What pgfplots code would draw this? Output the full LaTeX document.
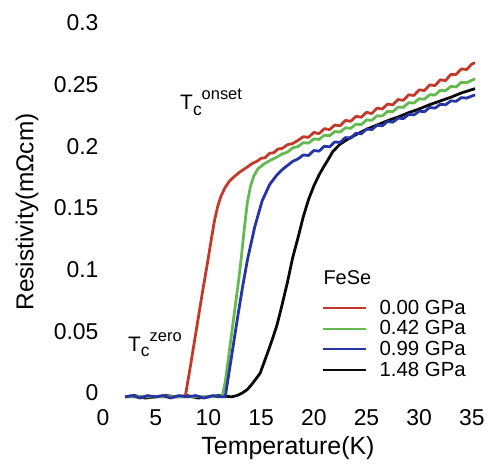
\documentclass[border=0pt]{standalone}
\usepackage{pgfplots}
\pgfplotsset{compat=1.18}
\usepackage{fontspec}
\setmainfont{Liberation Sans}
\definecolor{cRed}{RGB}{195,58,42}
\definecolor{cGreen}{RGB}{100,185,80}
\definecolor{cBlue}{RGB}{38,52,165}
\definecolor{cBlack}{RGB}{10,10,10}
\begin{document}
\begin{tikzpicture}
\useasboundingbox (0,0) rectangle (489bp,468bp);
\begin{axis}[
  at={(103bp,65bp)}, anchor=south west,
  scale only axis, width=379.44bp, height=376bp,
  xmin=0, xmax=36, ymin=-0.005, ymax=0.3,
  axis line style={draw=none}, tick style={draw=none},
  xtick={0,5,10,15,20,25,30,35},
  ytick={0,0.05,0.1,0.15,0.2,0.25,0.3},
  scaled y ticks=false,
  yticklabel style={/pgf/number format/fixed, /pgf/number format/precision=2, xshift=-1bp, yshift=4bp},
  xticklabel style={yshift=-3bp},
  /pgf/number format/assume math mode=true,
  tick label style={font=\fontsize{23}{23}\selectfont},
  clip=false,
  xlabel={Temperature(K)}, ylabel={Resistivity(mΩcm)},
  xlabel style={at={(rel axis cs:0.4875,-0.121)}, anchor=center, font=\fontsize{25}{25}\selectfont},
  ylabel style={at={(rel axis cs:-0.2003,0.508)}, anchor=center, font=\fontsize{24.5}{24.5}\selectfont},
  legend style={at={(axis cs:20.78,0.0790)}, anchor=north west, draw=none, fill=none,
    inner sep=0pt, outer sep=0pt, font=\fontsize{20.5}{20.5}\selectfont,
    row sep=4bp, column sep=12bp, nodes={inner sep=0.5bp}},
  legend cell align=left,
  legend image code/.code={\draw[#1] (0bp,0bp) -- (43bp,0bp);},
  every axis plot/.append style={line width=2.8bp, line join=round},
]
% 1.48 GPa
\addplot[cBlack, forget plot] table {
2.1 0.000
3.0 0.001
4.0 -0.001
5.0 0.000
6.0 0.001
7.0 0.000
8.0 0.001
9.0 -0.001
10.0 0.000
11.0 0.001
12.2 0.000
12.7 0.001
13.2 0.003
13.7 0.006
14.2 0.011
14.9 0.019
15.5 0.033
16.0 0.045
16.5 0.058
17.0 0.075
17.5 0.093
18.0 0.113
18.5 0.129
19.0 0.146
19.5 0.160
20.0 0.171
20.5 0.180
20.9 0.186
21.4 0.193
21.8 0.199
22.5 0.205
23.4 0.210
24.2 0.2135
25.0 0.2170
26.0 0.2205
27.0 0.2240
28.0 0.2270
29.0 0.2305
30.0 0.2335
31.0 0.2370
32.0 0.2400
33.0 0.2430
34.0 0.2465
35.3 0.2500
};
% 0.00 GPa
\addplot[cRed, forget plot] table {
2.1 0.000
4.0 0.000
6.0 0.000
7.8 0.000
8.2 0.020
8.6 0.041
9.0 0.062
9.4 0.083
9.9 0.108
10.3 0.129
10.6 0.144
10.9 0.155
11.2 0.163
11.6 0.170
12.0 0.175
12.5 0.179
13.0 0.1825
13.7 0.1865
14.2 0.1895
14.6 0.1910
15.0 0.1935
15.4 0.1940
15.8 0.1975
16.2 0.1980
16.6 0.2010
17.0 0.2015
17.5 0.2045
18.0 0.2055
18.5 0.2080
19.0 0.2110
19.5 0.2105
20.0 0.2145
20.5 0.2135
21.0 0.2175
21.5 0.2168
22.0 0.2205
22.5 0.2198
23.0 0.2242
23.5 0.2235
24.0 0.2275
24.5 0.2268
25.0 0.2308
25.5 0.2298
26.0 0.2342
26.5 0.2335
27.0 0.2375
27.5 0.2368
28.0 0.2412
28.5 0.2405
29.0 0.2450
29.5 0.2445
30.0 0.2490
30.5 0.2485
31.0 0.2530
31.5 0.2525
32.0 0.2572
32.5 0.2565
33.0 0.2615
33.5 0.2615
34.0 0.2660
34.5 0.2655
35.0 0.2700
35.3 0.2710
};
% 0.42 GPa
\addplot[cGreen, forget plot] table {
2.1 0.000
5.0 0.000
8.0 0.000
11.3 0.000
11.6 0.012
12.0 0.038
12.4 0.064
12.8 0.090
13.1 0.111
13.4 0.136
13.7 0.158
14.0 0.171
14.3 0.179
14.7 0.185
15.3 0.189
15.8 0.1915
16.5 0.1945
17.0 0.1970
17.5 0.1985
18.0 0.2020
18.5 0.2030
19.0 0.2062
19.5 0.2058
20.0 0.2092
20.5 0.2088
21.0 0.2122
21.5 0.2118
22.0 0.2152
22.5 0.2148
23.0 0.2182
23.5 0.2178
24.0 0.2212
24.5 0.2208
25.0 0.2246
25.5 0.2243
26.0 0.2280
26.5 0.2278
27.0 0.2316
27.5 0.2313
28.0 0.2351
28.5 0.2348
29.0 0.2386
29.5 0.2383
30.0 0.2418
30.5 0.2414
31.0 0.2451
31.5 0.2448
32.0 0.2486
32.5 0.2483
33.0 0.2518
33.5 0.2514
34.0 0.2551
34.5 0.2548
35.3 0.2580
};
% 0.99 GPa
\addplot[cBlue, forget plot] table {
2.1 0.000
2.8 0.001
3.5 -0.001
4.2 0.001
5.0 0.000
5.7 0.001
6.4 -0.001
7.2 0.001
8.0 0.000
8.8 0.001
9.6 -0.001
10.4 0.001
11.0 0.000
11.6 0.000
12.0 0.022
12.4 0.044
12.8 0.066
13.2 0.087
13.7 0.111
14.4 0.138
15.1 0.159
15.8 0.172
16.5 0.180
17.1 0.185
17.7 0.189
18.0 0.1910
18.5 0.1930
19.0 0.1962
19.5 0.1958
20.0 0.1998
20.5 0.1993
21.0 0.2033
21.5 0.2028
22.0 0.2068
22.5 0.2063
23.0 0.2103
23.5 0.2098
24.0 0.2138
24.5 0.2133
25.0 0.2173
25.5 0.2168
26.0 0.2203
26.5 0.2198
27.0 0.2233
27.5 0.2228
28.0 0.2261
28.5 0.2257
29.0 0.2291
29.5 0.2287
30.0 0.2317
30.5 0.2313
31.0 0.2347
31.5 0.2342
32.0 0.2373
32.5 0.2369
33.0 0.2401
33.5 0.2397
34.0 0.2427
34.5 0.2423
35.3 0.2450
};
\addlegendimage{cRed, line width=2bp}
\addlegendentry{0.00 GPa}
\addlegendimage{cGreen, line width=2bp}
\addlegendentry{0.42 GPa}
\addlegendimage{cBlue, line width=2bp}
\addlegendentry{0.99 GPa}
\addlegendimage{cBlack, line width=2bp}
\addlegendentry{1.48 GPa}
\node[anchor=base west, font=\fontsize{20}{20}\selectfont] at (axis cs:20.59,0.0908) {FeSe};
\node[anchor=base west, inner sep=0pt] at (axis cs:7.31,0.2328)
  {\fontsize{21}{21}\selectfont T\raisebox{-6bp}{\fontsize{17.5}{17.5}\selectfont c}\raisebox{10bp}{\fontsize{16.5}{16.5}\selectfont onset}};
\node[anchor=base west, inner sep=0pt] at (axis cs:2.37,0.0365)
  {\fontsize{21}{21}\selectfont T\raisebox{-5bp}{\fontsize{17.5}{17.5}\selectfont c}\raisebox{10bp}{\fontsize{16.5}{16.5}\selectfont zero}};
\end{axis}
\end{tikzpicture}
\end{document}
